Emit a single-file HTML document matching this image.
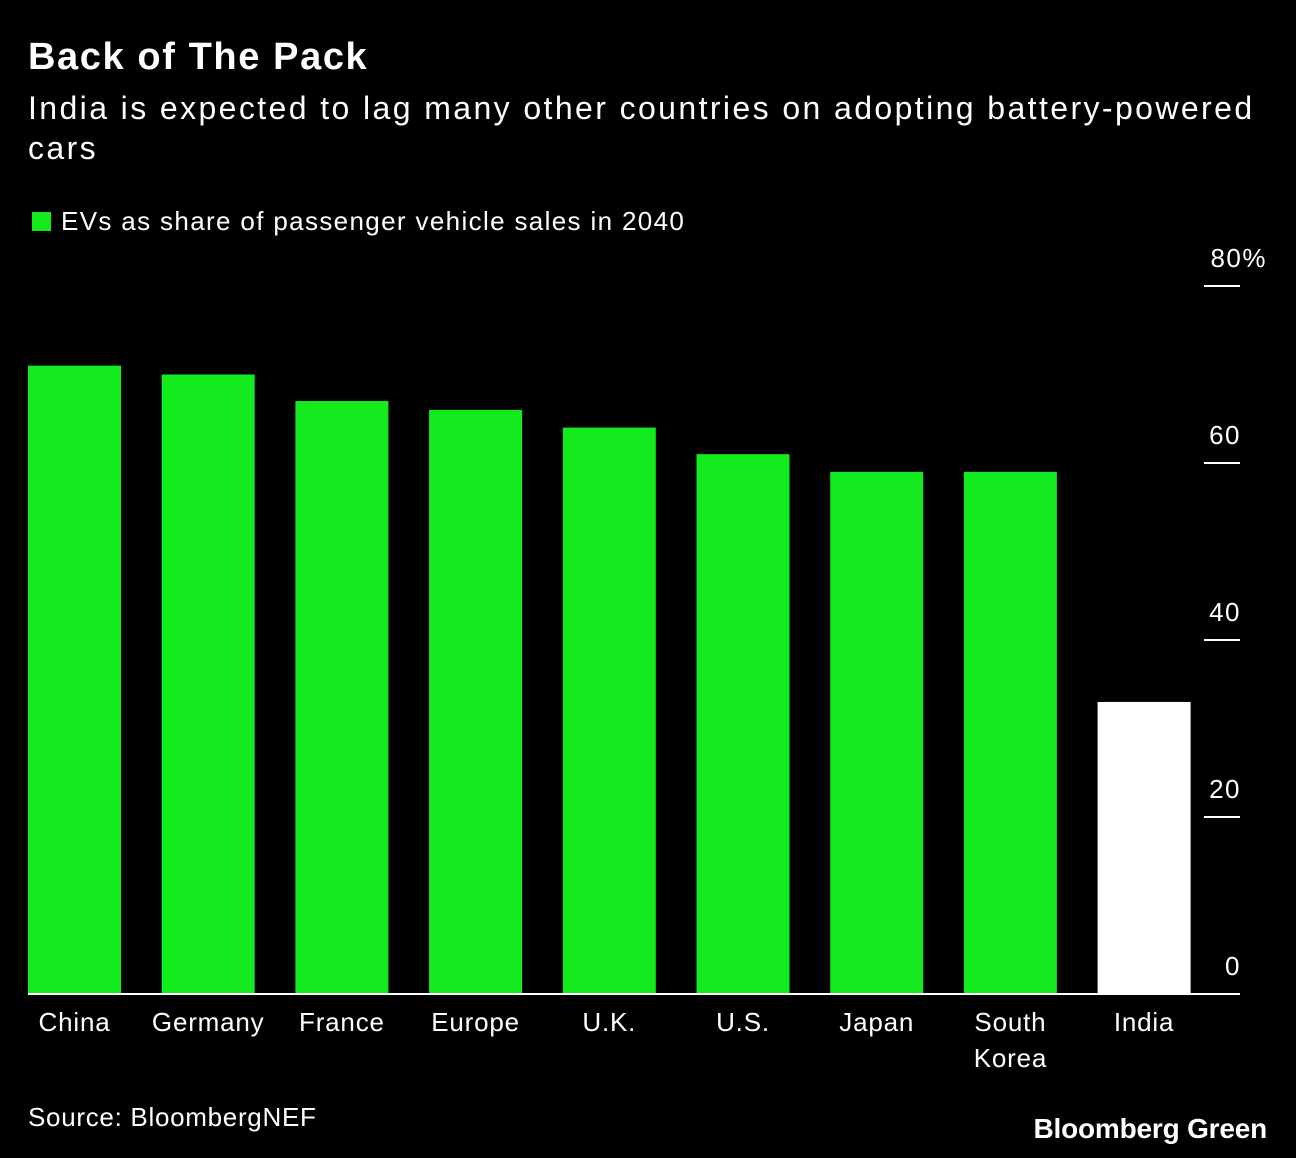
<!DOCTYPE html>
<html><head><meta charset="utf-8"><style>
body{margin:0;background:#000;width:1296px;height:1158px;overflow:hidden;font-family:"Liberation Sans",Arial,sans-serif;color:#fff}
.t{position:absolute;white-space:nowrap}
</style></head><body>
<div class="t" style="left:28px;top:36px;font-size:38px;font-weight:bold;letter-spacing:1.6px">Back of The Pack</div>
<div class="t" style="left:28px;top:88px;font-size:32px;line-height:40px;white-space:normal;width:1260px;letter-spacing:2.4px">India is expected to lag many other countries on adopting battery-powered cars</div>
<div class="t" style="left:32px;top:206px;font-size:26px;letter-spacing:1.35px"><span style="display:inline-block;width:19px;height:19px;background:#14eb1e;margin-right:10px;vertical-align:-1px"></span>EVs as share of passenger vehicle sales in 2040</div>
<svg id="c" width="1296" height="1158" style="position:absolute;left:0;top:0"></svg>
<div class="t" style="left:28px;top:1102px;font-size:26px;letter-spacing:0.7px">Source: BloombergNEF</div>
<div class="t" style="right:29px;top:1113px;font-size:28px;font-weight:bold;letter-spacing:-0.2px">Bloomberg Green</div>
<script>
const categories=["China","Germany","France","Europe","U.K.","U.S.","Japan","South Korea","India"];
const values=[71,70,67,66,64,61,59,59,33];
const tickValues=[0,20,40,60,80];
const tickLabels=["0","20","40","60","80%"];
const svg=document.getElementById('c');
const NS='http://www.w3.org/2000/svg';
const y=v=>994-v*8.85;
const x=i=>28+i*133.7;
function mk(t,a){const e=document.createElementNS(NS,t);for(const k in a)e.setAttribute(k,a[k]);svg.appendChild(e);return e;}
tickValues.forEach((v,i)=>{
 const l=mk('line',{x1:1204,x2:1240,y1:y(v),y2:y(v),stroke:'#fff','stroke-width':2});
 
 
 const t=mk('text',{x:i==4?1267:1241,y:y(v)-19,'text-anchor':'end','font-size':26,fill:'#fff','font-family':'Liberation Sans, sans-serif','letter-spacing':1.5});
 t.textContent=tickLabels[i];
 
 
});
values.forEach((v,i)=>{
 const r=mk('rect',{x:x(i),y:y(v),width:93,height:y(0)-y(v),fill:categories[i]=="India"?'#fff':'#14eb1e'});
 
 
 const words=categories[i]=="South Korea"?["South","Korea"]:[categories[i]];
 words.forEach((w,j)=>{
  const t=mk('text',{x:x(i)+46.5,y:1031+j*36,'text-anchor':'middle','font-size':26,fill:'#fff','font-family':'Liberation Sans, sans-serif','letter-spacing':0.8});
  t.textContent=w;
  
  
 });
});
const b=mk('line',{x1:28,x2:1240,y1:994,y2:994,stroke:'#fff','stroke-width':2});


</script>
</body></html>
